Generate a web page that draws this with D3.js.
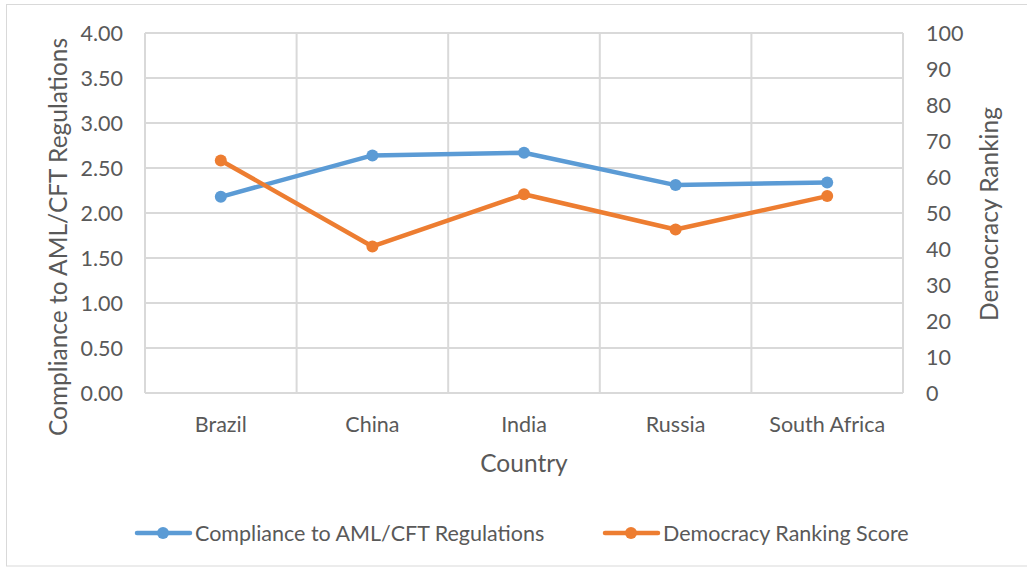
<!DOCTYPE html>
<html>
<head>
<meta charset="utf-8">
<script src="https://cdn.jsdelivr.net/npm/d3@7"></script>
<style>
  body { margin: 0; background: #fff; }
  text { font-family: Lato, 'Open Sans', sans-serif; fill: #595959; }
</style>
</head>
<body>
<div id="viz"></div>
<script>
// data
const countries = ['Brazil', 'China', 'India', 'Russia', 'South Africa'];
const compliance = [2.18, 2.64, 2.67, 2.31, 2.34];
const democracy = [64.6, 40.7, 55.2, 45.4, 54.7];
const leftTicks = [0, 0.5, 1, 1.5, 2, 2.5, 3, 3.5, 4];
const rightTicks = [0, 10, 20, 30, 40, 50, 60, 70, 80, 90, 100];

const blue = '#5B9BD5';
const orange = '#ED7D31';
const grid = '#d9d9d9';

const W = 1027, H = 569;
const plotL = 145, plotR = 903, plotT = 33, plotB = 393;
const tickSize = 21.5, titleSize = 24.5;

let svg = d3
  .select('#viz')
  .append('svg')
  .attr('width', W)
  .attr('height', H);

// outer border
svg.append('rect')
  .attr('x', 6.5).attr('y', 4.5)
  .attr('width', 1030).attr('height', 561.5)
  .attr('fill', 'none').attr('stroke', grid).attr('stroke-width', 1);

let x = d3.scaleBand().domain(countries).range([plotL, plotR]);
let yL = d3.scaleLinear().domain([0, 4]).range([plotB, plotT]);
let yR = d3.scaleLinear().domain([0, 100]).range([plotB, plotT]);

// horizontal gridlines
svg.append('g')
  .selectAll('line')
  .data(leftTicks)
  .join('line')
  .attr('x1', plotL).attr('x2', plotR)
  .attr('y1', d => yL(d)).attr('y2', d => yL(d))
  .attr('stroke', grid).attr('stroke-width', 2);

// vertical gridlines at band edges
let edges = countries.map(c => x(c)).concat([plotR]);
svg.append('g')
  .selectAll('line')
  .data(edges)
  .join('line')
  .attr('x1', d => d).attr('x2', d => d)
  .attr('y1', plotT).attr('y2', plotB)
  .attr('stroke', grid).attr('stroke-width', 2);

// left tick labels
svg.append('g')
  .selectAll('text')
  .data(leftTicks)
  .join('text')
  .attr('x', 123)
  .attr('y', d => yL(d))
  .attr('dy', '0.35em')
  .attr('text-anchor', 'end')
  .attr('font-size', tickSize)
  .text(d => d3.format('.2f')(d));

// right tick labels
svg.append('g')
  .selectAll('text')
  .data(rightTicks)
  .join('text')
  .attr('x', 926)
  .attr('y', d => yR(d))
  .attr('dy', '0.35em')
  .attr('font-size', tickSize)
  .text(d => d);

// category labels
svg.append('g')
  .selectAll('text')
  .data(countries)
  .join('text')
  .attr('x', d => x(d) + x.bandwidth() / 2)
  .attr('y', 432)
  .attr('text-anchor', 'middle')
  .attr('font-size', tickSize)
  .text(d => d);

// axis titles
svg.append('text')
  .attr('transform', 'translate(67,237) rotate(-90)')
  .attr('text-anchor', 'middle')
  .attr('font-size', titleSize)
  .text('Compliance to AML/CFT Regulations');

svg.append('text')
  .attr('transform', 'translate(998,214) rotate(-90)')
  .attr('text-anchor', 'middle')
  .attr('font-size', titleSize)
  .text('Democracy Ranking');

svg.append('text')
  .attr('x', 524).attr('y', 472)
  .attr('text-anchor', 'middle')
  .attr('font-size', titleSize)
  .text('Country');

// series
function drawSeries(values, yScale, color) {
  let cx = (d, i) => x(countries[i]) + x.bandwidth() / 2;
  let line = d3.line()
    .x((d, i) => cx(d, i))
    .y(d => yScale(d));
  svg.append('path')
    .datum(values)
    .attr('d', line)
    .attr('fill', 'none')
    .attr('stroke', color)
    .attr('stroke-width', 4.5)
    .attr('stroke-linejoin', 'round');
  svg.append('g')
    .selectAll('circle')
    .data(values)
    .join('circle')
    .attr('cx', cx)
    .attr('cy', d => yScale(d))
    .attr('r', 6)
    .attr('fill', color);
}
drawSeries(compliance, yL, blue);
drawSeries(democracy, yR, orange);

// legend
let legend = [
  { name: 'Compliance to AML/CFT Regulations', color: blue, x: 137 },
  { name: 'Democracy Ranking Score', color: orange, x: 605 }
];
let lg = svg.append('g')
  .selectAll('g')
  .data(legend)
  .join('g')
  .attr('transform', d => 'translate(' + d.x + ',533)');
lg.append('line')
  .attr('x1', 0).attr('x2', 53)
  .attr('stroke', d => d.color).attr('stroke-width', 4.5)
  .attr('stroke-linecap', 'round');
lg.append('circle')
  .attr('cx', 26).attr('r', 6)
  .attr('fill', d => d.color);
lg.append('text')
  .attr('x', 58)
  .attr('dy', '0.35em')
  .attr('font-size', tickSize)
  .text(d => d.name);
</script>
</body>
</html>
